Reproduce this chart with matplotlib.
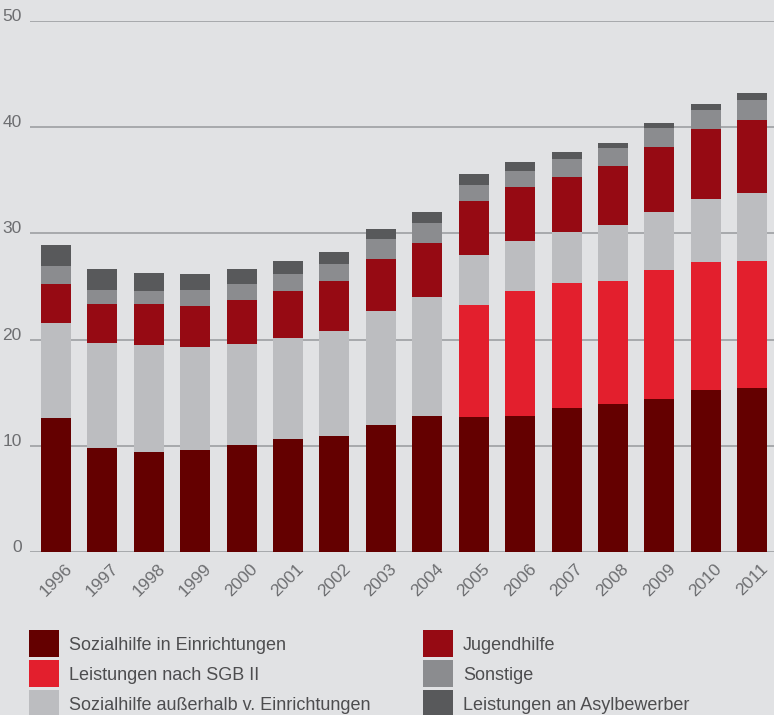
import numpy as np
import matplotlib
matplotlib.use("Agg")
import matplotlib.pyplot as plt
from matplotlib.patches import Rectangle

plt.rcParams['font.family'] = ['Liberation Sans', 'DejaVu Sans']

years = ["1996", "1997", "1998", "1999", "2000", "2001", "2002", "2003",
         "2004", "2005", "2006", "2007", "2008", "2009", "2010", "2011"]

# stacked segments, bottom to top
sozialhilfe_in = [12.6, 9.8, 9.4, 9.6, 10.1, 10.6, 10.9, 11.9,
                  12.8, 12.7, 12.8, 13.5, 13.9, 14.4, 15.2, 15.4]
sgb2 = [0, 0, 0, 0, 0, 0, 0, 0,
        0, 10.55, 11.8, 11.85, 11.6, 12.15, 12.15, 12.0]
sozialhilfe_aus = [9.0, 9.87, 10.05, 9.71, 9.52, 9.53, 9.9, 10.75,
                   11.2, 4.71, 4.71, 4.81, 5.28, 5.45, 5.94, 6.4]
jugendhilfe = [3.66, 3.68, 3.87, 3.86, 4.15, 4.42, 4.7, 4.91,
               5.08, 5.09, 5.08, 5.19, 5.56, 6.14, 6.6, 6.85]
sonstige = [1.63, 1.32, 1.22, 1.51, 1.5, 1.59, 1.6, 1.88,
            1.88, 1.51, 1.51, 1.68, 1.7, 1.79, 1.79, 1.89]
asyl = [1.98, 1.97, 1.69, 1.5, 1.41, 1.24, 1.15, 1.02,
        1.04, 1.04, 0.85, 0.67, 0.47, 0.47, 0.57, 0.66]

series = [sozialhilfe_in, sgb2, sozialhilfe_aus, jugendhilfe, sonstige, asyl]
names = ["Sozialhilfe in Einrichtungen", "Leistungen nach SGB II",
         "Sozialhilfe außerhalb v. Einrichtungen", "Jugendhilfe",
         "Sonstige", "Leistungen an Asylbewerber"]
colors = ["#640000", "#e31f2d", "#bcbdc0", "#960a13", "#8b8c8f", "#58595b"]

bg = "#e1e2e4"
W, H = 774, 715
fig = plt.figure(figsize=(W/100, H/100), dpi=100, facecolor=bg)
ax = fig.add_axes([30/W, 1-551.7/H, (W-30)/W, (551.7-21.3)/H])
ax.set_facecolor(bg)

x = np.arange(len(years))
bottom = np.zeros(len(years))
for vals, c in zip(series, colors):
    vals = np.array(vals, float)
    ax.bar(x, vals, bottom=bottom, width=0.647, color=c, linewidth=0, zorder=3)
    bottom += vals

ax.set_ylim(0, 50)
ax.set_xlim(-0.56, len(years) - 0.53)
for s in ax.spines.values():
    s.set_visible(False)
ax.set_yticks(range(0, 51, 10))
ax.yaxis.grid(True, color="#9d9fa2", linewidth=1.2, zorder=0)
ax.tick_params(axis="y", length=0, pad=6, labelsize=12.5, labelcolor="#6d6e71")
for lab in ax.get_yticklabels():
    lab.set_verticalalignment("baseline")
ax.set_xticks(x)
ax.set_xticklabels(years, rotation=45, ha="center")
ax.tick_params(axis="x", length=0, pad=7, labelsize=12.5, labelcolor="#6d6e71")

# legend, two columns of three
col_x = [29, 423]
row_top = [630, 660, 690]
for i, (name, c) in enumerate(zip(names, colors)):
    cx = col_x[i // 3]
    ty = row_top[i % 3]
    fig.add_artist(Rectangle((cx/W, 1-(ty+27)/H), 30/W, 27/H,
                             transform=fig.transFigure, color=c, linewidth=0))
    fig.text((cx+40)/W, 1-(ty+20)/H, name, fontsize=13, color="#4d4d4f",
             va="baseline", ha="left")

fig.savefig("out.png", dpi=100, facecolor=bg)
